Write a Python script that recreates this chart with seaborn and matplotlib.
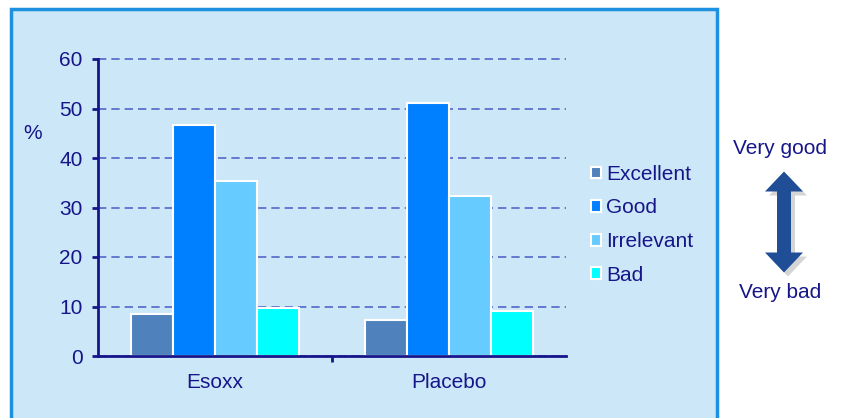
import pandas as pd
import numpy as np
import seaborn as sns
import matplotlib.pyplot as plt
from matplotlib.patches import Rectangle, FancyArrow

groups = ["Esoxx", "Placebo"]
ratings = ["Excellent", "Good", "Irrelevant", "Bad"]
esoxx = [8.4, 46.6, 35.4, 9.6]
placebo = [7.3, 51.1, 32.3, 9.1]
yticks = [0, 10, 20, 30, 40, 50, 60]
colors = ["#4f81bd", "#0080ff", "#66ccff", "#00ffff"]

navy = "#16168a"

df = pd.DataFrame({
    "group": [g for g in groups for _ in ratings],
    "rating": ratings * len(groups),
    "value": esoxx + placebo,
})

sns.set_theme(style="white")
plt.rcParams["font.family"] = ["Liberation Sans", "DejaVu Sans"]

fig = plt.figure(figsize=(8.41, 4.18), dpi=100)

# background panel + arrow, in pixel coordinates
bg = fig.add_axes([0, 0, 1, 1], zorder=0)
bg.set_xlim(0, 841)
bg.set_ylim(418, 0)
bg.axis("off")
bg.add_patch(Rectangle((11, 9), 706, 420, facecolor="#cce7f7", edgecolor="#1e90e0", lw=2.5))
for dx, dy, col, a in [(4, 4, "#888888", 0.35), (0, 0, "#1f4e96", 1)]:
    for d in (-1, 1):
        bg.add_patch(FancyArrow(784 + dx, 222 + dy, 0, 50.5 * d, width=14, head_width=38,
                                head_length=20, length_includes_head=True,
                                facecolor=col, edgecolor="none", alpha=a))
bg.text(780, 148, "Very good", ha="center", va="center", fontsize=15, color=navy)
bg.text(780, 293, "Very bad", ha="center", va="center", fontsize=15, color=navy)

ax = fig.add_axes([98 / 841, 1 - 356 / 418, 468 / 841, 297 / 418], zorder=1)
ax.patch.set_alpha(0)
sns.barplot(data=df, x="group", y="value", hue="rating", palette=colors, saturation=1,
            width=0.72, edgecolor="white", linewidth=1.5, ax=ax)

ax.set_ylim(0, 60)
ax.set_xlim(-0.5, 1.5)
ax.set_yticks(yticks)
ax.set_xlabel("")
ax.set_ylabel("%", rotation=0, fontsize=15, color=navy, va="center", ha="center")
ax.yaxis.set_label_coords(-0.139, 0.75)

ax.yaxis.grid(True, color="#5566cc", linestyle=(0, (5, 3)), lw=1.2)
for gl in ax.get_ygridlines():
    gl.set_clip_on(False)
ax.set_axisbelow(True)

for s in ["top", "right"]:
    ax.spines[s].set_visible(False)
for s in ["left", "bottom"]:
    ax.spines[s].set_color(navy)
    ax.spines[s].set_linewidth(2)

ax.tick_params(axis="y", left=True, length=4, width=2, color=navy, labelsize=15,
               labelcolor=navy, pad=7)
ax.tick_params(axis="x", which="major", length=0, labelsize=15, labelcolor=navy, pad=12)
ax.set_xticks([0.5], minor=True)
ax.tick_params(axis="x", which="minor", bottom=True, length=4, width=2, color=navy)

leg = ax.legend(loc="center left", bbox_to_anchor=(1.013, 0.442), frameon=False,
                fontsize=15, handlelength=0.5, handleheight=0.5, handletextpad=0.25,
                labelspacing=0.7, title=None)
for t in leg.get_texts():
    t.set_color(navy)

fig.savefig("out.png", dpi=100)
